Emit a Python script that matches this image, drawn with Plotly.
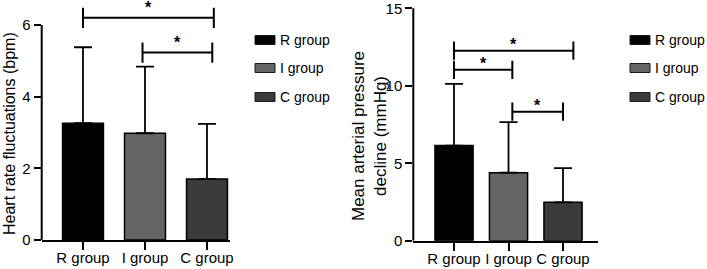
import plotly.graph_objects as go

# ---------------- data ----------------
groups = ["R group", "I group", "C group"]
group_colors = ["#000000", "#646464", "#3b3b3b"]

hr_mean = [3.26, 2.98, 1.70]          # Heart rate fluctuations (bpm)
hr_err = [2.12, 1.86, 1.54]
hr_ticks = [0, 2, 4, 6]

map_mean = [6.14, 4.39, 2.48]         # Mean arterial pressure decline (mmHg)
map_err = [3.98, 3.26, 2.20]
map_ticks = [0, 5, 10, 15]

# significance brackets (category-unit ends, value height)
hr_br_x0 = [0.0, 0.96]
hr_br_x1 = [2.11, 2.085]
hr_br_y = [6.2, 5.23]

map_br_x0 = [0.0, 0.0, 1.07]
map_br_x1 = [2.19, 1.07, 2.0]
map_br_y = [12.27, 11.03, 8.33]

sig_label = "*"

# ---------------- figure ----------------
W, H = 707, 269
FONT = "Liberation Sans, Arial, Helvetica, sans-serif"
fig = go.Figure()

xs = list(range(len(groups)))

fig.add_trace(go.Bar(
    x=xs, y=hr_mean, width=0.66, marker=dict(color=group_colors, line=dict(color="#000000", width=1.5)),
    error_y=dict(type="data", array=hr_err, arrayminus=[0] * 3, symmetric=False,
                 color="#000000", thickness=1.8, width=9),
    xaxis="x", yaxis="y", showlegend=False, hoverinfo="skip"))

fig.add_trace(go.Bar(
    x=xs, y=map_mean, width=0.70, marker=dict(color=group_colors, line=dict(color="#000000", width=1.5)),
    error_y=dict(type="data", array=map_err, arrayminus=[0] * 3, symmetric=False,
                 color="#000000", thickness=1.8, width=9),
    xaxis="x2", yaxis="y2", showlegend=False, hoverinfo="skip"))

shapes = []
annotations = []

def panel(xa, ya, ticks, bx0, bx1, by, tick_half, star_shift):
    # y axis line from 0 to last tick
    shapes.append(dict(type="line", xref=xa + " domain", yref=ya, x0=0, x1=0,
                       y0=ticks[0], y1=ticks[-1], line=dict(color="#000000", width=2)))
    for a, b, h in zip(bx0, bx1, by):
        shapes.append(dict(type="line", xref=xa, yref=ya, x0=a, x1=b, y0=h, y1=h,
                           line=dict(color="#000000", width=2)))
        for e in (a, b):
            shapes.append(dict(type="line", xref=xa, yref=ya, x0=e, x1=e,
                               y0=h - tick_half, y1=h + tick_half,
                               line=dict(color="#000000", width=2)))
        annotations.append(dict(xref=xa, yref=ya, x=(a + b) / 2, y=h, text="<b>" + sig_label + "</b>",
                                showarrow=False, yanchor="middle", yshift=star_shift,
                                font=dict(family=FONT, size=16, color="#000000")))

panel("x", "y", hr_ticks, hr_br_x0, hr_br_x1, hr_br_y, 0.28, 10)
panel("x2", "y2", map_ticks, map_br_x0, map_br_x1, map_br_y, 0.59, 6)

# axis titles
annotations.append(dict(xref="paper", yref="paper", x=9 / W, y=(H - 134) / H,
                        text="Heart rate fluctuations (bpm)", textangle=-90, showarrow=False,
                        xanchor="center", yanchor="middle",
                        font=dict(family=FONT, size=16, color="#000000")))
annotations.append(dict(xref="paper", yref="paper", x=369 / W, y=(H - 136) / H,
                        text="Mean arterial pressure<br>decline (mmHg)", textangle=-90, showarrow=False,
                        xanchor="center", yanchor="middle",
                        font=dict(family=FONT, size=17, color="#000000")))

# legends (drawn manually)
leg_y = [40, 68, 97]
for lx in (255, 630):
    for g, c, yy in zip(groups, group_colors, leg_y):
        shapes.append(dict(type="rect", xref="paper", yref="paper",
                           x0=lx / W, x1=(lx + 20) / W, y0=(H - yy - 4.5) / H, y1=(H - yy + 4.5) / H,
                           fillcolor=c, line=dict(color="#1a1a1a", width=1)))
        annotations.append(dict(xref="paper", yref="paper", x=(lx + 23) / W, y=(H - yy) / H,
                                text=g, showarrow=False, xanchor="left", yanchor="middle",
                                font=dict(family=FONT, size=14, color="#000000")))

xcommon = dict(tickmode="array", tickvals=xs, ticktext=groups, showline=True, linecolor="#000000",
               linewidth=2, ticks="outside", ticklen=8, tickwidth=2, tickcolor="#000000",
               ticklabelstandoff=-5,
               showgrid=False, zeroline=False, automargin=False,
               tickfont=dict(family=FONT, size=15, color="#000000"))
ycommon = dict(tickmode="array", showline=False, ticks="outside", ticklen=7, tickwidth=2,
               tickcolor="#000000", showgrid=False, zeroline=False, ticklabeloverflow="allow",
               automargin=False, tickfont=dict(family=FONT, size=15, color="#000000"))

fig.update_layout(
    width=W, height=H, margin=dict(l=0, r=0, t=0, b=0, autoexpand=False),
    paper_bgcolor="white", plot_bgcolor="white", bargap=0,
    xaxis=dict(domain=[41.7 / W, 230 / W], range=[-0.666, 2.371], anchor="y", **xcommon),
    yaxis=dict(domain=[(H - 240) / H, 1], range=[0, 240 / 35.83], anchor="x", tickvals=hr_ticks, **ycommon),
    xaxis2=dict(domain=[413.3 / W, 598 / W], range=[-0.747, 2.642], anchor="y2", **xcommon),
    yaxis2=dict(domain=[(H - 240.7) / H, 1], range=[0, 240.7 / 15.49], anchor="x2", tickvals=map_ticks, **ycommon),
    shapes=shapes, annotations=annotations,
    font=dict(family=FONT, size=14, color="#000000"),
)

fig.write_html("out.html", config={"displayModeBar": False, "staticPlot": True},
               post_script="document.body.style.margin='0';document.body.style.overflow='hidden';")
